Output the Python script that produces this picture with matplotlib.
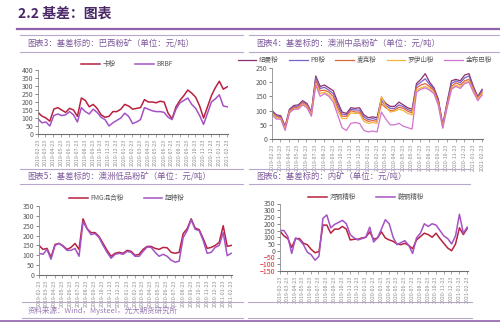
import numpy as np
import pandas as pd
import matplotlib
matplotlib.use("Agg")
import matplotlib.pyplot as plt

plt.rcParams['font.family'] = ['Noto Sans CJK SC', 'DejaVu Sans']

W, H = 500, 322

# ---------------- data ----------------
start, end = '2019-02-23', '2021-02-23'
tick_labels = [d.strftime('%Y-%m-%d') for d in pd.date_range(start, end, freq=pd.DateOffset(months=1))]

# chart 3: Brazil fines
kafen = [135, 112, 100, 80, 155, 165, 150, 135, 160, 150, 110, 225, 210, 170, 185, 160, 120, 105, 110, 140,
         140, 155, 185, 175, 155, 160, 165, 215, 200, 200, 195, 205, 200, 130, 95, 170, 210, 240, 275, 255,
         230, 175, 100, 170, 240, 290, 330, 280, 295]
brbf = [95, 70, 75, 50, 115, 125, 115, 120, 140, 120, 75, 165, 140, 125, 155, 135, 105, 90, 50, 70,
        85, 100, 130, 110, 65, 75, 90, 165, 155, 145, 140, 140, 135, 105, 90, 155, 195, 210, 225, 185,
        160, 115, 60, 130, 200, 220, 245, 175, 170]

# chart 4: Australian mid-grade fines
newman = [100, 85, 82, 45, 105, 118, 120, 135, 125, 95, 222, 185, 190, 180, 170, 130, 95, 90, 110, 108,
          110, 85, 75, 78, 75, 145, 125, 115, 115, 130, 120, 110, 105, 195, 210, 230, 200, 180, 140, 50,
          130, 205, 210, 205, 225, 230, 185, 150, 175]
pb = [97, 82, 78, 42, 102, 115, 116, 132, 122, 92, 215, 178, 182, 172, 160, 120, 88, 85, 105, 102,
      102, 78, 68, 72, 68, 135, 118, 108, 108, 120, 114, 104, 98, 188, 200, 212, 192, 175, 135, 48,
      125, 195, 205, 198, 215, 222, 180, 148, 170]
mac = [95, 78, 75, 40, 100, 110, 112, 128, 118, 90, 205, 170, 172, 165, 150, 110, 80, 80, 100, 95,
       95, 70, 62, 65, 62, 125, 110, 100, 102, 112, 108, 98, 92, 180, 190, 195, 185, 170, 130, 45,
       120, 185, 198, 190, 205, 210, 175, 145, 165]
yandi = [90, 75, 72, 35, 95, 105, 108, 122, 112, 85, 195, 160, 165, 155, 140, 100, 72, 72, 92, 90,
         90, 62, 55, 58, 55, 150, 115, 95, 98, 105, 100, 90, 85, 172, 180, 185, 178, 162, 122, 40,
         115, 178, 190, 182, 198, 205, 170, 140, 160]
jimblebar = [85, 70, 70, 30, 92, 105, 105, 120, 110, 80, 190, 150, 160, 150, 130, 85, 40, 30, 55, 58,
             55, 30, 25, 28, 25, 95, 70, 50, 50, 55, 45, 40, 35, 165, 175, 180, 172, 160, 118, 38,
             110, 175, 185, 178, 195, 200, 165, 135, 155]

# chart 5: Australian low-grade fines
fmg = [150, 130, 135, 90, 155, 160, 148, 130, 140, 160, 130, 285, 235, 215, 215, 195, 160, 125, 95, 110,
       115, 110, 125, 120, 100, 105, 130, 145, 145, 135, 130, 140, 138, 115, 110, 115, 210, 235, 285, 238,
       230, 185, 135, 140, 150, 165, 250, 145, 150]
chaote = [110, 105, 130, 80, 150, 160, 145, 125, 125, 135, 95, 270, 235, 205, 210, 190, 150, 115, 85, 105,
          110, 105, 120, 115, 95, 95, 120, 142, 140, 115, 95, 105, 95, 75, 65, 70, 190, 225, 280, 232,
          225, 175, 110, 115, 140, 150, 215, 98, 110]

# chart 6: domestic concentrate
hegang = [145, 110, 90, 25, 90, 90, 55, 45, 10, -15, -5, 190, 190, 130, 160, 160, 180, 160, 80, 85,
          85, 95, 100, 140, 85, 95, 140, 95, 80, 70, 50, 45, 55, 40, 15, 80, 105, 130, 120, 100,
          130, 90, 55, 20, 0, 50, 170, 120, 165]
angang = [150, 150, 105, -20, 95, 80, 45, -10, -30, -70, -40, 240, 265, 170, 195, 210, 225, 200, 120, 95,
          80, 90, 100, 175, 65, 95, 160, 230, 200, 100, 45, 60, 75, 40, -20, 95, 130, 200, 180, 200,
          190, 150, 110, 90, 50, 110, 270, 130, 175]

dates = pd.date_range(start, end, periods=len(kafen))
ticks = pd.date_range(start, end, freq=pd.DateOffset(months=1))

RED = '#B8213F'
PURPLE = '#A452C4'
GREY = '#595959'
HEAD = '#7E5A9C'
LINEC = '#B9A6CC'

fig = plt.figure(figsize=(W / 100, H / 100), dpi=100)


def box(l, t, r, b):
    return fig.add_axes([l / W, 1 - b / H, (r - l) / W, (b - t) / H])


def style(ax, ylim, yticks, neg_red=False):
    ax.set_xlim(dates[0], dates[-1] + pd.Timedelta(days=3))
    ax.set_ylim(*ylim)
    ax.set_yticks(yticks)
    ax.set_xticks(ticks)
    ax.set_xticklabels(tick_labels, rotation=90, fontsize=3.8, color='#8C8C8C')
    ax.tick_params(axis='y', labelsize=5, colors=GREY, length=2, width=0.5, pad=1.5)
    ax.tick_params(axis='x', length=2, width=0.5, pad=1.5, colors='#7F7F7F')
    for lab in ax.get_xticklabels():
        lab.set_color('#8C8C8C')
    if neg_red:
        for lab, v in zip(ax.get_yticklabels(), yticks):
            lab.set_color('#E0202A' if v < 0 else GREY)
    for s in ['top', 'right']:
        ax.spines[s].set_visible(False)
    ax.spines['left'].set_color('#8C8C8C')
    ax.spines['bottom'].set_color('#6F6F6F')
    ax.spines['left'].set_linewidth(0.6)
    ax.spines['bottom'].set_linewidth(0.8)


def legend(ax, cx, cy, ncol, spacing=2.0):
    ax.legend(loc='center', bbox_to_anchor=(cx / W, 1 - cy / H), bbox_transform=fig.transFigure,
              ncol=ncol, frameon=False, fontsize=4.8, handlelength=2.8, columnspacing=spacing,
              handletextpad=0.4, labelcolor=GREY, borderaxespad=0, borderpad=0)


# ---------- title ----------
fig.text(18 / W, 1 - 14 / H, '2.2 基差：图表', fontsize=10, fontweight='bold', color='#4A2868',
         ha='left', va='center')
fig.add_artist(plt.Line2D([17 / W, 1.0], [1 - 28.5 / H] * 2, color='#8E62AC', lw=1.6))


def header(x0, x1, ytop, ybot, text):
    fig.add_artist(plt.Line2D([x0 / W, x1 / W], [1 - ytop / H] * 2, color=LINEC, lw=0.8))
    fig.add_artist(plt.Line2D([x0 / W, x1 / W], [1 - ybot / H] * 2, color=LINEC, lw=0.8))
    fig.text((x0 + 7) / W, 1 - (ytop + ybot) / 2 / H, text, fontsize=6.0, color=HEAD, ha='left', va='center')


header(20, 243, 35, 51.5, '图表3：基差标的：巴西粉矿（单位：元/吨）')
header(249, 500, 35, 51.5, '图表4：基差标的：澳洲中品粉矿（单位：元/吨）')
header(20, 243, 169, 184, '图表5：基差标的：澳洲低品粉矿（单位：元/吨）')
header(249, 470, 169, 183.5, '图表6：基差标的：内矿（单位：元/吨）')

# footer
fig.add_artist(plt.Line2D([22 / W, 243 / W], [1 - 302 / H] * 2, color=LINEC, lw=0.8))
fig.add_artist(plt.Line2D([248 / W, 472 / W], [1 - 302 / H] * 2, color=LINEC, lw=0.8))
fig.text(28 / W, 1 - 311 / H, '资料来源：Wind，Mysteel，光大期货研究所', fontsize=5.4, color='#9A7DB4',
         ha='left', va='center', style='italic')
fig.add_artist(plt.Line2D([22 / W, 243 / W], [1 - 317.5 / H] * 2, color=LINEC, lw=0.8))
fig.add_artist(plt.Line2D([248 / W, 472 / W], [1 - 317.5 / H] * 2, color=LINEC, lw=0.8))
fig.add_artist(plt.Line2D([0, 1], [1 - 320.5 / H] * 2, color='#8E62AC', lw=1.2))

# ---------- chart 3 ----------
ax1 = box(38, 70, 228, 134)
ax1.plot(dates, kafen, color=RED, lw=1.1, label='卡粉')
ax1.plot(dates, brbf, color=PURPLE, lw=1.1, label='BRBF')
style(ax1, (0, 400), np.arange(0, 401, 50))
legend(ax1, 127, 64, 2, 3.0)

# ---------- chart 4 ----------
ax2 = box(272, 68, 483, 139)
ax2.plot(dates, newman, color='#8A2E6F', lw=0.9, label='纽曼粉')
ax2.plot(dates, pb, color='#7B62C8', lw=0.9, label='PB粉')
ax2.plot(dates, mac, color='#E2643A', lw=0.9, label='麦克粉')
ax2.plot(dates, yandi, color='#F4B53E', lw=0.9, label='罗伊山粉')
ax2.plot(dates, jimblebar, color='#D073CF', lw=0.9, label='金布巴粉')
style(ax2, (0, 250), np.arange(0, 251, 50))
legend(ax2, 365, 60, 5, 1.5)

# ---------- chart 5 ----------
ax3 = box(39, 206, 232, 275)
ax3.plot(dates, fmg, color=RED, lw=1.1, label='FMG混合粉')
ax3.plot(dates, chaote, color=PURPLE, lw=1.1, label='超特粉')
style(ax3, (0, 350), np.arange(0, 351, 50))
legend(ax3, 127, 198, 2, 3.0)

# ---------- chart 6 ----------
ax4 = box(280, 203.5, 468, 271)
ax4.plot(dates, hegang, color=RED, lw=1.1, label='河钢精粉')
ax4.plot(dates, angang, color=PURPLE, lw=1.1, label='鞍钢精粉')
style(ax4, (-150, 350), np.arange(-150, 351, 50), neg_red=True)
legend(ax4, 366, 197, 2, 3.0)

fig.savefig('out.png', dpi=100, facecolor='white')
